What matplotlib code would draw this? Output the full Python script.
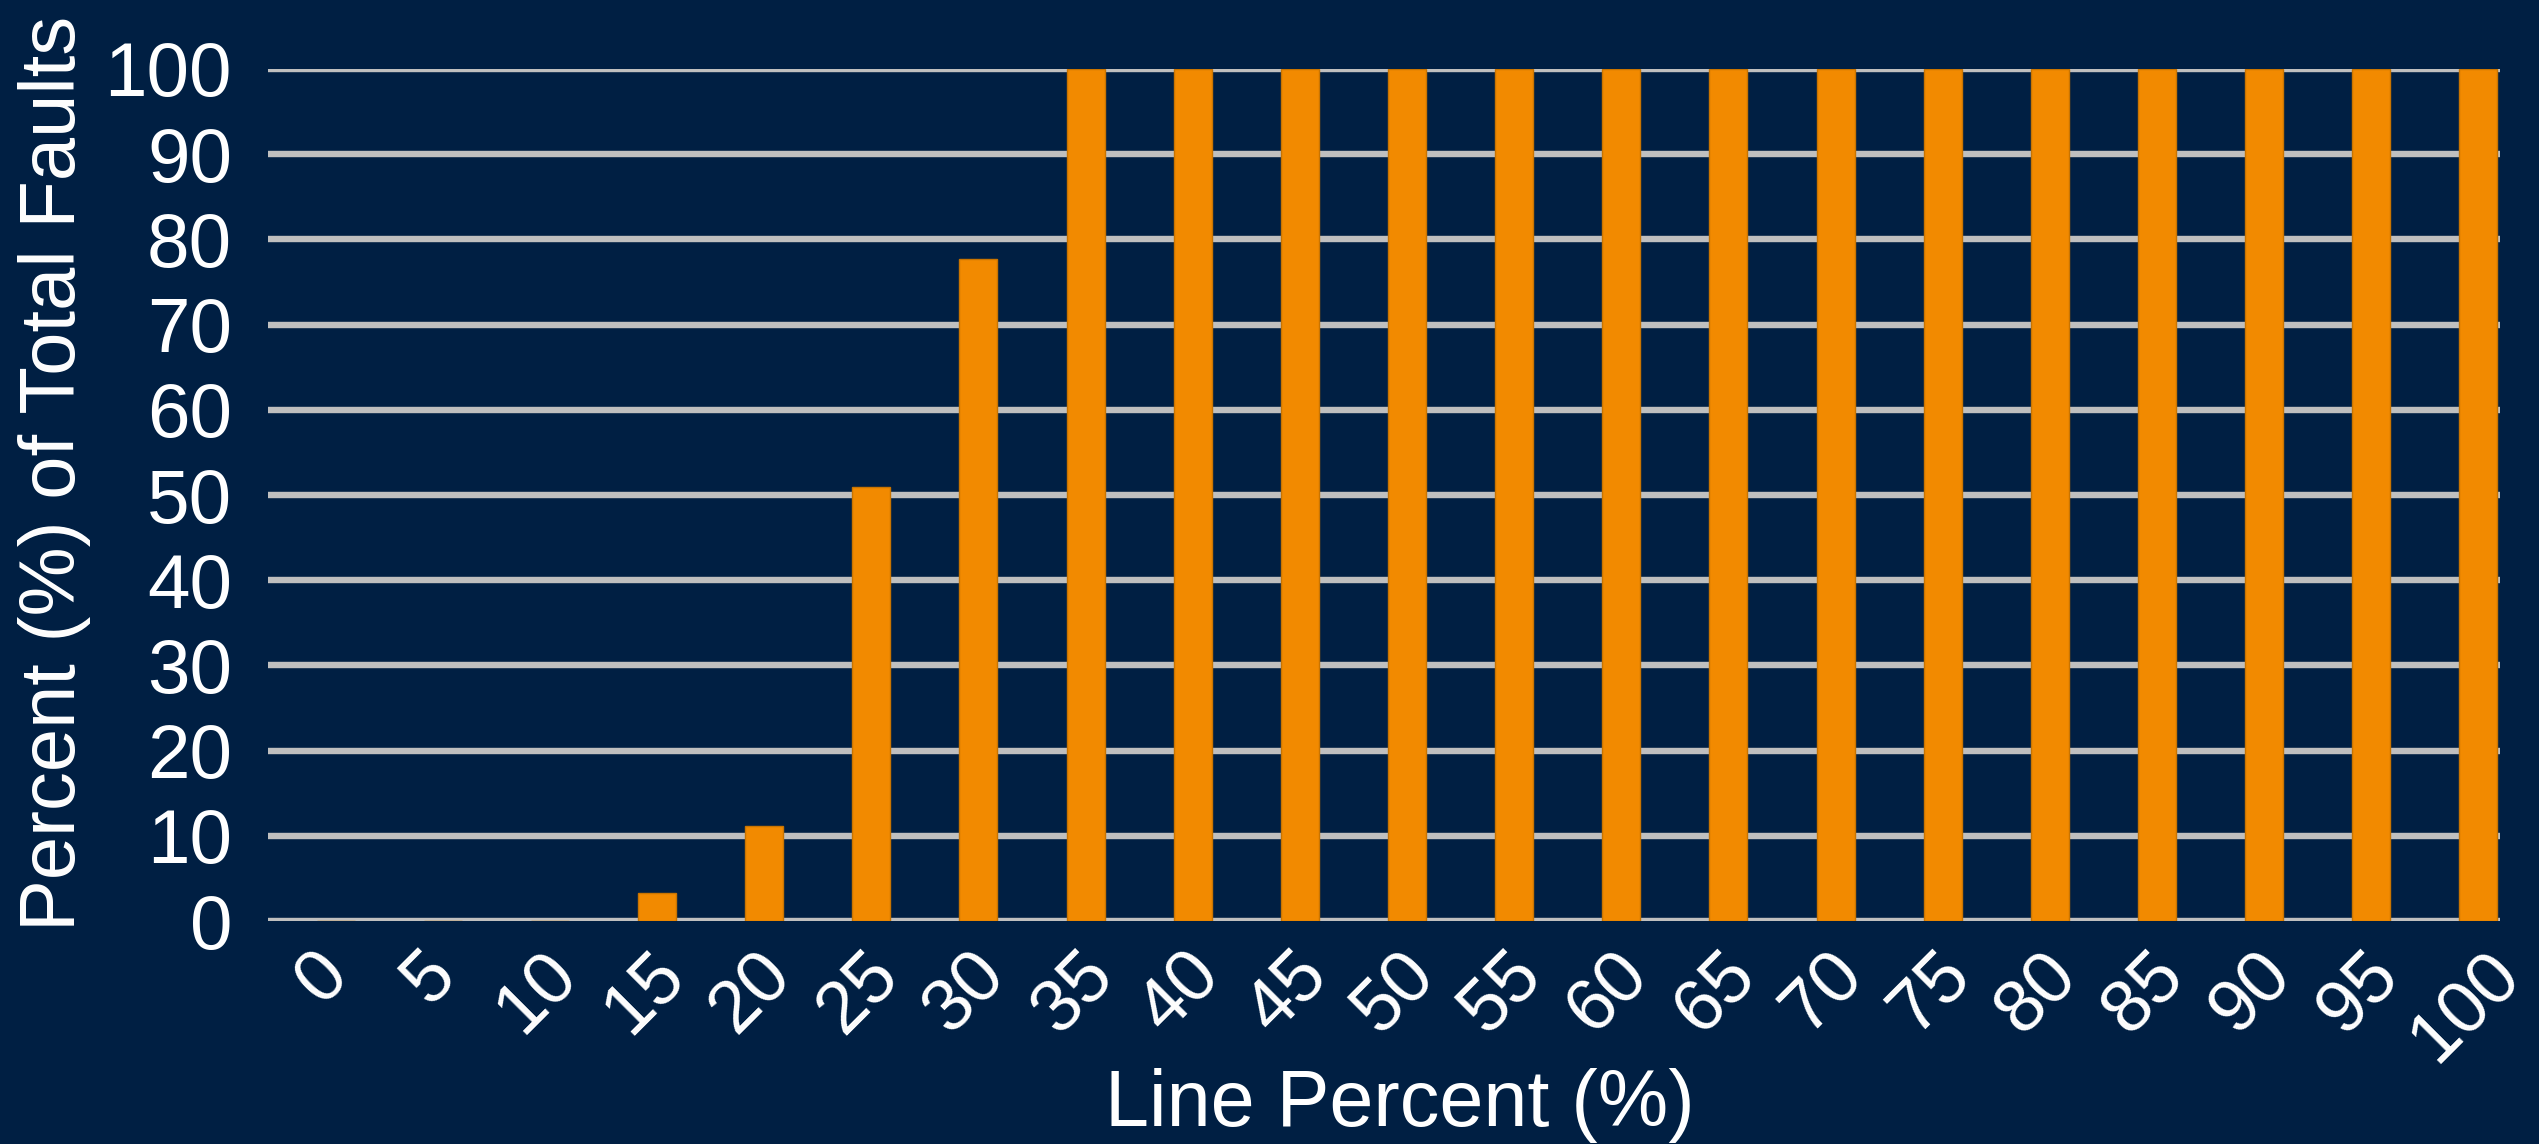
import matplotlib.pyplot as plt
from matplotlib.transforms import ScaledTranslation

# line percent categories and share of total faults (%)
line_percent = ['0', '5', '10', '15', '20', '25', '30', '35', '40', '45', '50',
                '55', '60', '65', '70', '75', '80', '85', '90', '95', '100']
fault_share = [0, 0, 0, 3.3, 11.2, 50.9, 77.7, 100, 100, 100, 100,
               100, 100, 100, 100, 100, 100, 100, 100, 100, 100]
y_ticks = [0, 10, 20, 30, 40, 50, 60, 70, 80, 90, 100]

bg = '#001F43'
plt.rcParams['font.family'] = ['Liberation Sans', 'DejaVu Sans']

fig = plt.figure(figsize=(25.39, 11.44), dpi=100, facecolor=bg)
ax = fig.add_axes([0.1056, 0.1949, 0.879, 0.7448], facecolor=bg)

x = range(len(line_percent))
ax.bar(x, fault_share, width=0.355, color='#F28A00', edgecolor='#C97400',
       linewidth=1, zorder=3)

ax.set_xlim(-0.63, len(line_percent) - 0.8)
ax.set_ylim(0, 100)
ax.set_yticks(y_ticks)
ax.yaxis.grid(True, color='#BFBFBF', linewidth=4.6, solid_capstyle='round', zorder=1)
ax.set_axisbelow(True)

ax.set_xticks(list(x))
ax.set_xticklabels(line_percent, rotation=45, ha='center', va='top')
ax.tick_params(axis='x', length=0, pad=13, labelsize=53, colors='white')
ax.tick_params(axis='y', length=0, pad=26, labelsize=55, colors='white')

# excel puts the rotated labels a little left of the bar centre
shift = ScaledTranslation(-0.13, 0, fig.dpi_scale_trans)
for lbl in ax.get_xticklabels():
    lbl.set_transform(lbl.get_transform() + shift)

for s in ax.spines.values():
    s.set_visible(False)

ax.set_xlabel('Line Percent (%)', fontsize=57, color='white')
ax.xaxis.label.set_va('center')
ax.xaxis.set_label_coords(0.507, -0.216)

ax.set_ylabel('Percent (%) of Total Faults', fontsize=56, color='white')
ax.yaxis.label.set_va('center')
ax.yaxis.set_label_coords(-0.0955, 0.525)

fig.savefig('out.png', dpi=100, facecolor=bg)
